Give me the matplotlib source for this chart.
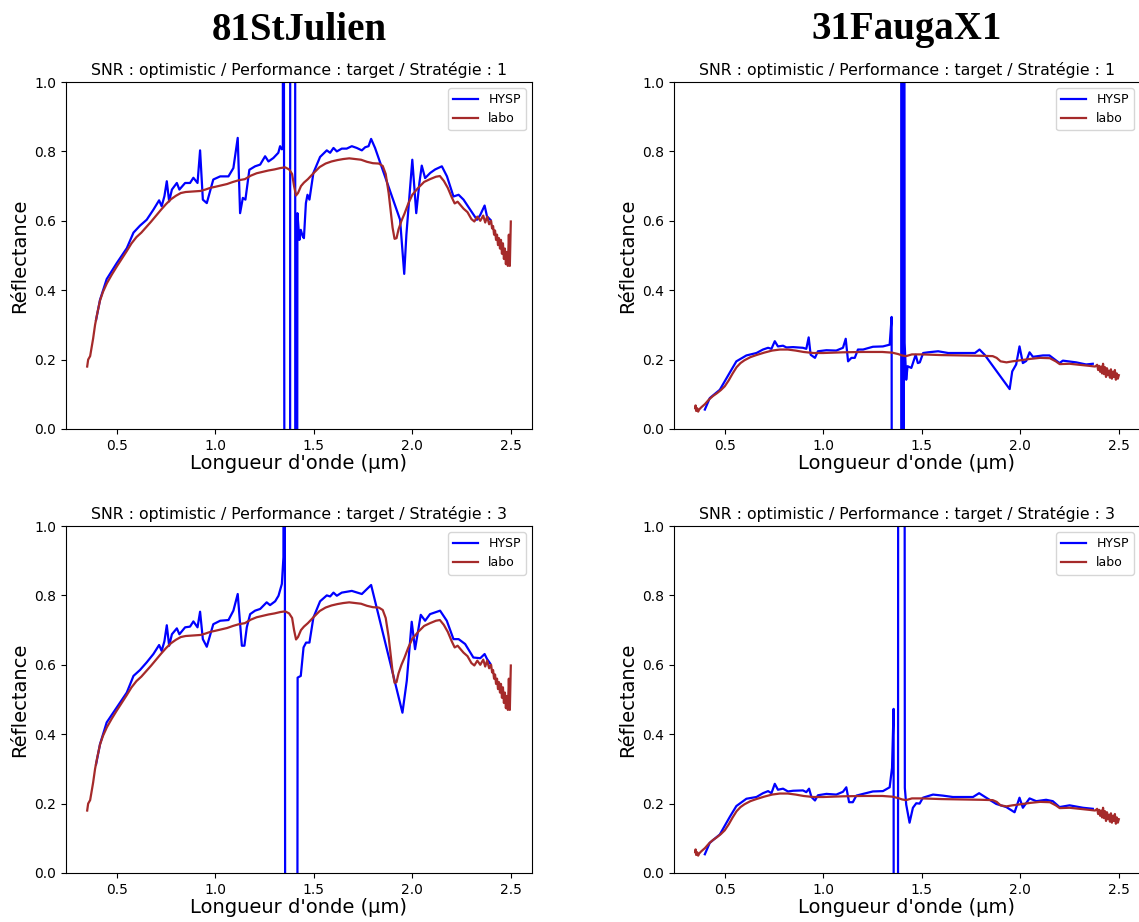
import matplotlib
matplotlib.use("Agg")
import matplotlib.pyplot as plt

# ---------------- data ----------------
sites = ["81StJulien", "31FaugaX1"]
strategies = [1, 3]

# Lab spectrum, 81StJulien
labo_sj_x = [0.35, 0.355, 0.365, 0.38, 0.39, 0.40, 0.415, 0.43, 0.45, 0.475, 0.50, 0.525, 0.55, 0.575,
             0.60, 0.625, 0.65, 0.675, 0.70, 0.725, 0.75, 0.775, 0.80, 0.825, 0.85, 0.875, 0.90, 0.925,
             0.95, 0.975, 1.0, 1.03, 1.06, 1.09, 1.12, 1.15, 1.18, 1.21, 1.24, 1.27, 1.30, 1.33, 1.355,
             1.375, 1.39, 1.40, 1.41, 1.42, 1.435, 1.45, 1.47, 1.50, 1.53, 1.56, 1.59, 1.62, 1.65, 1.68,
             1.71, 1.74, 1.77, 1.80, 1.83, 1.85, 1.865, 1.88, 1.89, 1.90, 1.91, 1.92, 1.93, 1.945, 1.96,
             1.98, 2.00, 2.03, 2.06, 2.09, 2.12, 2.14, 2.16, 2.18, 2.20, 2.215, 2.23, 2.245, 2.26, 2.28,
             2.30, 2.315, 2.33, 2.345, 2.36, 2.37, 2.38, 2.39, 2.40, 2.405, 2.41, 2.415, 2.42, 2.425,
             2.43, 2.435, 2.44, 2.445, 2.45, 2.455, 2.46, 2.465, 2.47, 2.475, 2.48, 2.485, 2.49, 2.495, 2.50]
labo_sj_y = [0.18, 0.20, 0.21, 0.26, 0.30, 0.33, 0.37, 0.395, 0.42, 0.445, 0.468, 0.49, 0.512, 0.535,
             0.553, 0.566, 0.582, 0.598, 0.615, 0.632, 0.648, 0.662, 0.672, 0.68, 0.683, 0.684, 0.685, 0.686,
             0.69, 0.695, 0.698, 0.702, 0.706, 0.712, 0.717, 0.72, 0.73, 0.737, 0.741, 0.745, 0.748, 0.752, 0.754,
             0.748, 0.735, 0.70, 0.673, 0.68, 0.70, 0.71, 0.72, 0.738, 0.755, 0.765, 0.771, 0.775, 0.778, 0.78,
             0.778, 0.776, 0.77, 0.766, 0.765, 0.758, 0.735, 0.68, 0.63, 0.58, 0.548, 0.55, 0.575, 0.60, 0.62,
             0.65, 0.675, 0.695, 0.712, 0.72, 0.727, 0.729, 0.715, 0.695, 0.668, 0.65, 0.655, 0.645, 0.635, 0.625,
             0.605, 0.598, 0.612, 0.60, 0.615, 0.595, 0.612, 0.59, 0.60, 0.578, 0.585, 0.56, 0.572, 0.545,
             0.56, 0.53, 0.55, 0.52, 0.545, 0.505, 0.535, 0.49, 0.52, 0.475, 0.51, 0.47, 0.56, 0.47, 0.598]

# HYSP, 81StJulien, strategy 1
hysp_sj1_x = [0.395, 0.415, 0.449, 0.50, 0.551, 0.585, 0.618, 0.652, 0.686, 0.715, 0.728, 0.742, 0.754,
              0.766, 0.78, 0.805, 0.818, 0.847, 0.872, 0.889, 0.91, 0.923, 0.937, 0.957, 0.99, 1.025, 1.067,
              1.092, 1.114, 1.126, 1.14, 1.153, 1.173, 1.202, 1.228, 1.253, 1.27, 1.295, 1.32, 1.329, 1.338,
              1.343, 1.345, 1.356, 1.378, 1.379, 1.381, 1.405, 1.407, 1.412, 1.417, 1.427, 1.434, 1.444, 1.45,
              1.46, 1.468, 1.478, 1.498, 1.532, 1.566, 1.583, 1.60, 1.617, 1.642, 1.667, 1.693, 1.718, 1.744,
              1.761, 1.778, 1.791, 1.811, 1.938, 1.959, 1.97, 2.0, 2.02, 2.036, 2.048, 2.065, 2.091, 2.116,
              2.15, 2.176, 2.209, 2.235, 2.26, 2.294, 2.328, 2.345, 2.367, 2.379, 2.396]
hysp_sj1_y = [0.314, 0.372, 0.432, 0.478, 0.521, 0.566, 0.586, 0.603, 0.632, 0.659, 0.642, 0.671, 0.714,
              0.656, 0.69, 0.709, 0.69, 0.709, 0.709, 0.724, 0.709, 0.803, 0.661, 0.651, 0.719, 0.728, 0.728,
              0.752, 0.839, 0.622, 0.666, 0.661, 0.747, 0.757, 0.762, 0.786, 0.771, 0.781, 0.796, 0.815, 0.806,
              0.81, 3.0, -3.0, -3.0, -3.0, 3.0, 3.0, -3.0, -3.0, 0.622, 0.545, 0.574, 0.555, 0.55,
              0.651, 0.675, 0.661, 0.738, 0.784, 0.803, 0.796, 0.81, 0.80, 0.808, 0.808, 0.815, 0.81, 0.803,
              0.812, 0.815, 0.836, 0.81, 0.603, 0.447, 0.56, 0.776, 0.622, 0.709, 0.759, 0.723, 0.738, 0.748,
              0.757, 0.728, 0.67, 0.675, 0.661, 0.632, 0.603, 0.617, 0.644, 0.613, 0.603]

# HYSP, 81StJulien, strategy 3
hysp_sj3_x = [0.395, 0.415, 0.449, 0.50, 0.551, 0.585, 0.618, 0.652, 0.686, 0.715, 0.728, 0.742, 0.754,
              0.766, 0.78, 0.805, 0.818, 0.847, 0.872, 0.889, 0.91, 0.923, 0.937, 0.957, 0.99, 1.025, 1.067,
              1.092, 1.114, 1.135, 1.148, 1.16, 1.177, 1.202, 1.228, 1.261, 1.278, 1.304, 1.321, 1.338, 1.346,
              1.351, 1.358, 1.412, 1.418, 1.434, 1.448, 1.461, 1.478, 1.498, 1.532, 1.566, 1.583, 1.60, 1.617,
              1.642, 1.693, 1.744, 1.791, 1.95, 1.972, 1.997, 2.014, 2.043, 2.065, 2.09, 2.141, 2.175, 2.209,
              2.235, 2.268, 2.31, 2.345, 2.367, 2.379, 2.395]
hysp_sj3_y = [0.313, 0.371, 0.434, 0.477, 0.52, 0.568, 0.585, 0.607, 0.631, 0.657, 0.64, 0.668, 0.714,
              0.655, 0.688, 0.705, 0.688, 0.708, 0.71, 0.725, 0.708, 0.753, 0.674, 0.652, 0.717, 0.727, 0.729,
              0.756, 0.804, 0.655, 0.655, 0.708, 0.746, 0.756, 0.761, 0.78, 0.772, 0.783, 0.799, 0.833, 0.91,
              3.0, -3.0, -3.0, 0.563, 0.568, 0.65, 0.664, 0.664, 0.736, 0.783, 0.80, 0.797, 0.808, 0.799,
              0.808, 0.813, 0.804, 0.83, 0.462, 0.554, 0.724, 0.645, 0.744, 0.727, 0.746, 0.756, 0.727, 0.674,
              0.674, 0.66, 0.621, 0.619, 0.631, 0.617, 0.604]

# Lab spectrum, 31FaugaX1
labo_fx_x = [0.35, 0.352, 0.355, 0.36, 0.365, 0.37, 0.38, 0.40, 0.42, 0.44, 0.46, 0.48, 0.50, 0.52,
             0.54, 0.56, 0.58, 0.60, 0.63, 0.66, 0.70, 0.74, 0.78, 0.82, 0.86, 0.90, 0.95, 1.0, 1.1, 1.2,
             1.3, 1.35, 1.38, 1.40, 1.42, 1.45, 1.5, 1.6, 1.7, 1.8, 1.86, 1.88, 1.90, 1.93, 1.96, 2.0,
             2.05, 2.1, 2.15, 2.18, 2.2, 2.25, 2.3, 2.35, 2.38, 2.39, 2.395, 2.40, 2.405, 2.41, 2.415,
             2.42, 2.425, 2.43, 2.435, 2.44, 2.445, 2.45, 2.455, 2.46, 2.465, 2.47, 2.475, 2.48, 2.485,
             2.49, 2.495, 2.50]
labo_fx_y = [0.06, 0.068, 0.052, 0.06, 0.05, 0.056, 0.062, 0.072, 0.085, 0.095, 0.103, 0.112, 0.123, 0.14,
             0.16, 0.178, 0.19, 0.198, 0.207, 0.213, 0.22, 0.226, 0.229, 0.229, 0.226, 0.222, 0.219, 0.219,
             0.221, 0.222, 0.222, 0.22, 0.216, 0.212, 0.21, 0.215, 0.215, 0.213, 0.212, 0.211, 0.21, 0.205,
             0.195, 0.192, 0.195, 0.198, 0.202, 0.205, 0.204, 0.195, 0.187, 0.188, 0.185, 0.182, 0.18, 0.185,
             0.17, 0.182, 0.165, 0.18, 0.16, 0.188, 0.158, 0.178, 0.15, 0.175, 0.155, 0.168, 0.148, 0.172,
             0.145, 0.165, 0.15, 0.17, 0.142, 0.16, 0.145, 0.155]

# HYSP, 31FaugaX1, strategy 1
hysp_fx1_x = [0.399, 0.424, 0.475, 0.525, 0.559, 0.61, 0.661, 0.694, 0.72, 0.737, 0.754, 0.77, 0.796,
              0.813, 0.847, 0.897, 0.914, 0.926, 0.936, 0.958, 0.973, 1.016, 1.066, 1.10, 1.114, 1.126,
              1.143, 1.16, 1.176, 1.202, 1.252, 1.303, 1.337, 1.347, 1.35, 1.395, 1.398, 1.401, 1.404,
              1.407, 1.41, 1.413, 1.421, 1.428, 1.447, 1.469, 1.48, 1.49, 1.507, 1.532, 1.583, 1.634, 1.70,
              1.77, 1.793, 1.819, 1.946, 1.959, 1.979, 1.996, 2.013, 2.03, 2.047, 2.064, 2.115, 2.148,
              2.199, 2.216, 2.284, 2.334, 2.368]
hysp_fx1_y = [0.056, 0.089, 0.113, 0.162, 0.195, 0.212, 0.219, 0.229, 0.234, 0.231, 0.253, 0.238, 0.24,
              0.235, 0.236, 0.234, 0.231, 0.264, 0.214, 0.205, 0.224, 0.227, 0.226, 0.234, 0.26, 0.195,
              0.205, 0.205, 0.229, 0.229, 0.237, 0.238, 0.243, 0.323, -3.0, -3.0, 3.0, -3.0, 3.0,
              -3.0, 3.0, 0.248, 0.142, 0.181, 0.176, 0.214, 0.19, 0.192, 0.219, 0.221, 0.224, 0.219, 0.219,
              0.219, 0.229, 0.214, 0.115, 0.166, 0.186, 0.238, 0.19, 0.196, 0.221, 0.208, 0.212, 0.212,
              0.19, 0.197, 0.192, 0.186, 0.188]

# HYSP, 31FaugaX1, strategy 3
hysp_fx3_x = [0.399, 0.424, 0.475, 0.525, 0.559, 0.61, 0.661, 0.694, 0.72, 0.737, 0.754, 0.77, 0.796,
              0.821, 0.847, 0.897, 0.914, 0.928, 0.94, 0.958, 0.973, 1.016, 1.066, 1.10, 1.117, 1.131,
              1.15, 1.168, 1.202, 1.252, 1.303, 1.337, 1.349, 1.357, 1.359, 1.378, 1.381, 1.411, 1.414,
              1.421, 1.438, 1.455, 1.472, 1.489, 1.506, 1.557, 1.607, 1.658, 1.709, 1.76, 1.791, 1.827,
              1.878, 1.929, 1.971, 1.996, 2.013, 2.047, 2.081, 2.131, 2.165, 2.199, 2.25, 2.318, 2.368]
hysp_fx3_y = [0.054, 0.087, 0.111, 0.161, 0.193, 0.214, 0.219, 0.23, 0.236, 0.23, 0.257, 0.24, 0.243,
              0.235, 0.237, 0.238, 0.233, 0.243, 0.219, 0.209, 0.224, 0.228, 0.226, 0.234, 0.247, 0.204,
              0.204, 0.223, 0.228, 0.235, 0.236, 0.247, 0.303, 0.473, -3.0, -3.0, 3.0, 3.0, 0.245,
              0.197, 0.145, 0.188, 0.201, 0.20, 0.217, 0.226, 0.223, 0.219, 0.219, 0.219, 0.23, 0.217,
              0.199, 0.19, 0.175, 0.217, 0.188, 0.215, 0.207, 0.211, 0.207, 0.19, 0.195, 0.188, 0.185]

hysp = {(0, 1): (hysp_sj1_x, hysp_sj1_y), (0, 3): (hysp_sj3_x, hysp_sj3_y),
        (1, 1): (hysp_fx1_x, hysp_fx1_y), (1, 3): (hysp_fx3_x, hysp_fx3_y)}
labo = {0: (labo_sj_x, labo_sj_y), 1: (labo_fx_x, labo_fx_y)}

yticks = [0.0, 0.2, 0.4, 0.6, 0.8, 1.0]
xticks = [0.5, 1.0, 1.5, 2.0, 2.5]

# ---------------- figure ----------------
W, H = 1139, 922
fig = plt.figure(figsize=(W / 100, H / 100), dpi=100)

col_left = [66, 674]
row_top = [82, 526]
ax_w, ax_h = 466, 347

for c, site in enumerate(sites):
    for r, strat in enumerate(strategies):
        l = col_left[c] / W
        b = 1 - (row_top[r] + ax_h) / H
        ax = fig.add_axes([l, b, ax_w / W, ax_h / H])
        hx, hy = hysp[(c, strat)]
        lx, ly = labo[c]
        ax.plot(hx, hy, color="blue", lw=1.6, label="HYSP")
        ax.plot(lx, ly, color="#a52a2a", lw=1.6, label="labo")
        ax.set_ylim(0, 1)
        ax.set_yticks(yticks)
        ax.set_xticks(xticks)
        ax.tick_params(labelsize=10)
        ax.set_title(f"SNR : optimistic / Performance : target / Stratégie : {strat}",
                     fontsize=11.3, pad=5)
        ax.set_xlabel("Longueur d'onde (µm)", fontsize=14, labelpad=1)
        ax.set_ylabel("Réflectance", fontsize=14)
        ax.legend(loc="upper right", fontsize=9)

    cx = (col_left[c] + ax_w / 2) / W
    fig.text(cx, 1 - 30 / H, site, ha="center", va="center",
             fontsize=28, fontweight="bold", family=["Liberation Serif", "DejaVu Serif"])

fig.savefig("out.png", dpi=100)
